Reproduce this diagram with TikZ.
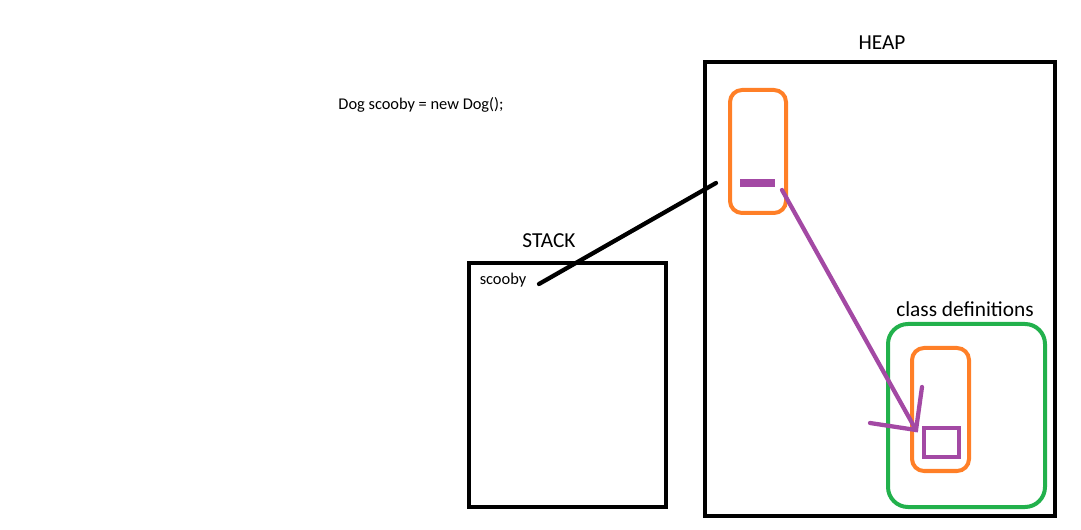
\documentclass[tikz,border=0pt]{standalone}
\usepackage{fontspec}
\setmainfont{Carlito}
\usetikzlibrary{positioning}
\definecolor{heaporange}{RGB}{255,127,39}
\definecolor{refpurple}{RGB}{163,73,164}
\definecolor{classgreen}{RGB}{34,177,76}

\begin{document}
\begin{tikzpicture}[x=0.75pt,y=-0.75pt,
  region/.style={draw=black,line width=3pt,inner sep=0pt},
  objbox/.style={draw=heaporange,line width=3pt,rounded corners=9pt,
                 minimum width=42pt,minimum height=92.25pt,inner sep=0pt},
  label/.style={inner sep=0pt,font=\fontsize{16}{18}\selectfont},
  small/.style={inner sep=0pt,font=\fontsize{12.3}{14}\selectfont},
  refline/.style={line width=3.2pt,line cap=round}]
\useasboundingbox (0,0) rectangle (1081,530);
\node[region,minimum width=262.5pt,minimum height=340.5pt] (heap) at (880,289) {};
\node[region,minimum width=147.75pt,minimum height=183pt] (stack) at (567.5,385) {};
\node[label] (heaplbl) at (882,43) {HEAP};
\node[label] (stacklbl) at (549,241) {STACK};
\node[small] (code) at (421,105) {Dog scooby = new Dog();};
\node[small] (scooby) at (503,280) {scooby};
% object on the heap
\node[objbox] (dog) at (758,151.5) {};
\node[fill=refpurple,minimum width=26.25pt,minimum height=6pt,inner sep=0pt] (field) at (757.5,183) {};
% class area
\node[draw=classgreen,line width=3pt,rounded corners=15pt,
      minimum width=117.75pt,minimum height=137.25pt,inner sep=0pt] (classes) at (966.5,415.5) {};
\node[label] (classlbl) at (965,309) {class definitions};
\node[objbox,minimum width=42.75pt] (dogclass) at (940.5,409.5) {};
\node[draw=refpurple,line width=2.6pt,minimum width=26.25pt,minimum height=21.75pt,inner sep=0pt] (classinfo) at (941.5,442.5) {};
% references
\coordinate (refstart) at (539,284);
\coordinate (refend) at (716,183);
\draw[refline] (refstart)--(refend);
\coordinate (ptrstart) at (782,190);
\coordinate (ptrtip) at (916,430);
\coordinate (barbleft) at (870,423);
\coordinate (barbup) at (922,387);
\draw[refline,refpurple] (ptrstart)--(ptrtip);
\draw[refline,refpurple] (barbleft)--(ptrtip)--(barbup);
\end{tikzpicture}
\end{document}
